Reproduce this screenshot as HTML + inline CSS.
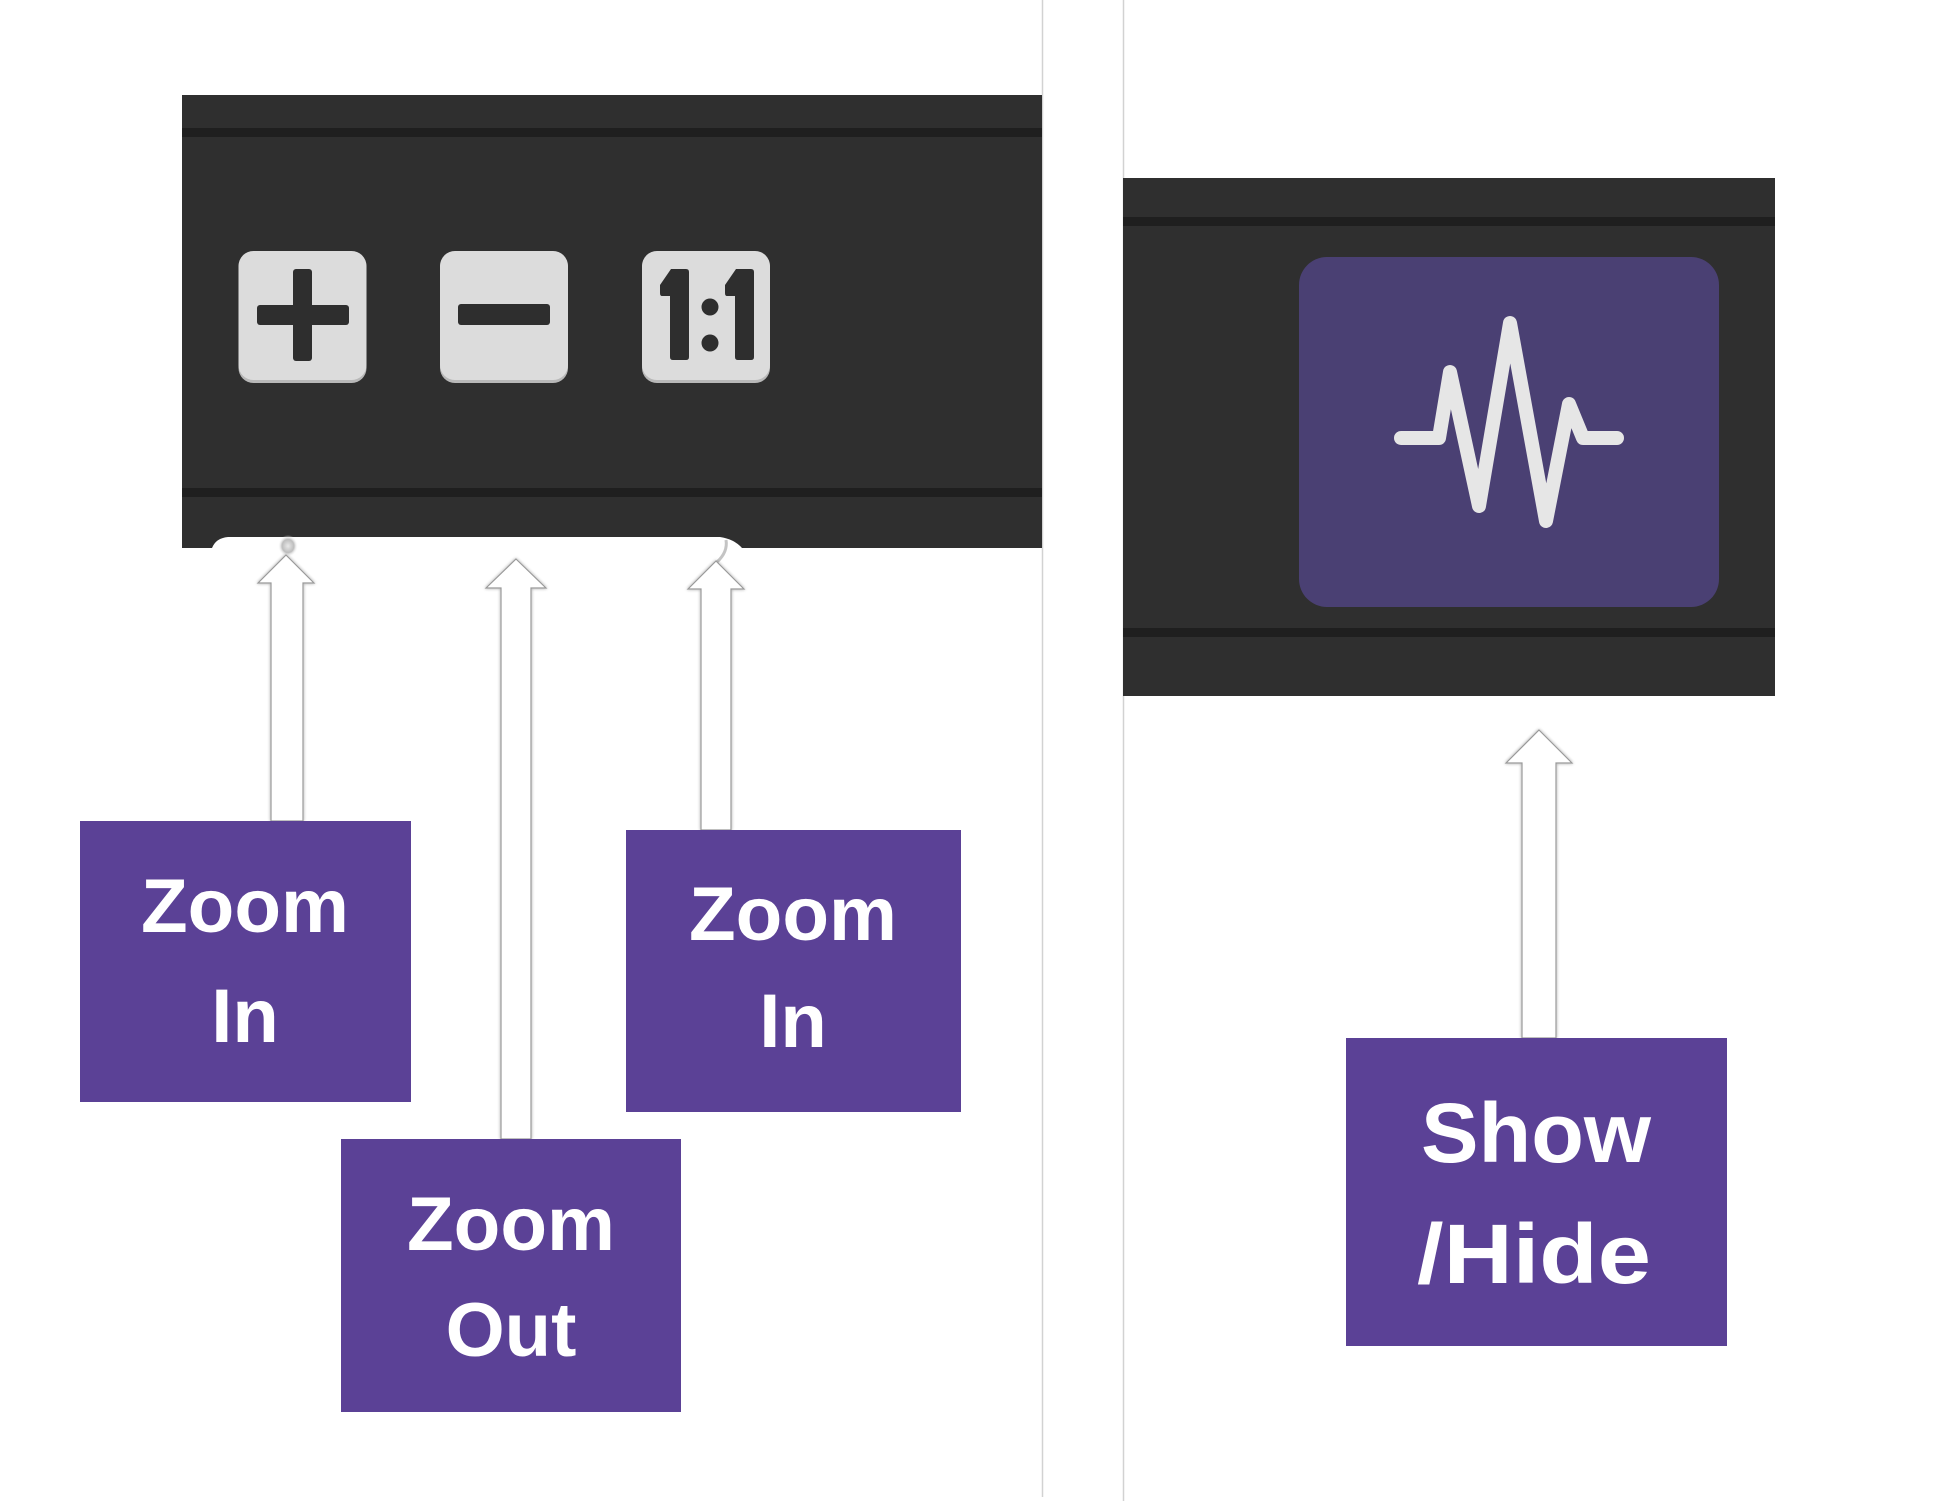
<!DOCTYPE html>
<html>
<head>
<meta charset="utf-8">
<style>
  html,body{margin:0;padding:0;background:#ffffff;}
  body{width:1958px;height:1501px;overflow:hidden;position:relative;}
  svg{position:absolute;left:0;top:0;}
  .lbl{font-family:"Liberation Sans","DejaVu Sans",sans-serif;font-weight:bold;fill:#ffffff;}
</style>
</head>
<body>
<svg width="1958" height="1501" viewBox="0 0 1958 1501" xmlns="http://www.w3.org/2000/svg">
  <defs>
    <filter id="sh" x="-30%" y="-10%" width="160%" height="120%">
      <feGaussianBlur in="SourceAlpha" stdDeviation="1.5"/>
      <feOffset dx="0" dy="0" result="b"/>
      <feComponentTransfer><feFuncA type="linear" slope="0.35"/></feComponentTransfer>
      <feMerge><feMergeNode/><feMergeNode in="SourceGraphic"/></feMerge>
    </filter>
    <radialGradient id="blob" cx="50%" cy="50%" r="50%">
      <stop offset="0%" stop-color="#e8e8e8"/>
      <stop offset="60%" stop-color="#bdbdbd"/>
      <stop offset="100%" stop-color="#ffffff" stop-opacity="0"/>
    </radialGradient>
  </defs>

  <!-- panel divider lines -->
  <line x1="1042.5" y1="0" x2="1042.5" y2="1497" stroke="#d2d2d2" stroke-width="1.5"/>
  <line x1="1123.5" y1="0" x2="1123.5" y2="1501" stroke="#d2d2d2" stroke-width="1.5"/>

  <!-- LEFT TOOLBAR -->
  <path d="M182,95 H1042 V548 H742 Q734,539 720,537 H228 Q216,538 212,548 H182 Z" fill="#2f2f2f"/>
  <rect x="182" y="128" width="860" height="9" fill="#1f1f1f"/>
  <rect x="182" y="488" width="860" height="9" fill="#1f1f1f"/>

  <!-- plus button -->
  <rect x="238.5" y="252" width="128" height="131" rx="15" fill="#b8b8b8"/>
  <rect x="238.5" y="251" width="128" height="129" rx="15" fill="#dcdcdc"/>
  <rect x="293" y="269" width="19" height="92" rx="3" fill="#2e2e2e"/>
  <rect x="257" y="305" width="92" height="20" rx="3" fill="#2e2e2e"/>

  <!-- minus button -->
  <rect x="440" y="252" width="128" height="131" rx="15" fill="#b8b8b8"/>
  <rect x="440" y="251" width="128" height="129" rx="15" fill="#dcdcdc"/>
  <rect x="458" y="304" width="92" height="21" rx="3" fill="#2e2e2e"/>

  <!-- 1:1 button -->
  <rect x="642" y="252" width="128" height="131" rx="15" fill="#b8b8b8"/>
  <rect x="642" y="251" width="128" height="129" rx="15" fill="#dcdcdc"/>
  <path d="M671,269 H686 Q689,269 689,272 V357 Q689,360 686,360 H673 Q670,360 670,357 V296 H662 Q660,296 660,293 V285 Z" fill="#2e2e2e"/>
  <path d="M736,269 H751 Q754,269 754,272 V357 Q754,360 751,360 H738 Q735,360 735,357 V296 H727 Q725,296 725,293 V285 Z" fill="#2e2e2e"/>
  <circle cx="710" cy="307" r="8.5" fill="#2e2e2e"/>
  <circle cx="710" cy="343" r="8.5" fill="#2e2e2e"/>

  <!-- RIGHT TOOLBAR -->
  <rect x="1123" y="178" width="652" height="518" fill="#2f2f2f"/>
  <rect x="1123" y="217" width="652" height="9" fill="#1f1f1f"/>
  <rect x="1123" y="628" width="652" height="9" fill="#1f1f1f"/>
  <rect x="1299" y="257" width="420" height="350" rx="28" fill="#4a4073"/>
  <polyline points="1401,438 1439,438 1450,372 1479,506 1510,323 1546,521 1569,404 1583,438 1617,438"
            fill="none" stroke="#e6e6e6" stroke-width="14" stroke-linecap="round" stroke-linejoin="round"/>

  <!-- connector blobs -->
  <ellipse cx="288" cy="546" rx="10" ry="11" fill="url(#blob)"/>
  <path d="M717,562 Q728,552 726,540" fill="none" stroke="#c4c4c4" stroke-width="3"/>

  <!-- ARROWS -->
  <g fill="#ffffff" stroke="#999999" stroke-width="1.2" filter="url(#sh)">
    <polygon points="286,555 314,583 303,583 303,821 271,821 271,583 258,583"/>
    <polygon points="516,559 546,588 531,588 531,1139 501,1139 501,588 486,588"/>
    <polygon points="716,561 744,589 731,589 731,830 701,830 701,589 688,589"/>
    <polygon points="1539,730 1572,763 1556,763 1556,1038 1522,1038 1522,763 1506,763"/>
  </g>

  <!-- LABEL BOXES -->
  <rect x="80" y="821" width="331" height="281" fill="#5b4196"/>
  <rect x="341" y="1139" width="340" height="273" fill="#5b4196"/>
  <rect x="626" y="830" width="335" height="282" fill="#5b4196"/>
  <rect x="1346" y="1038" width="381" height="308" fill="#5b4196"/>

  <text class="lbl" x="245" y="932" font-size="76" text-anchor="middle" textLength="208" lengthAdjust="spacingAndGlyphs">Zoom</text>
  <text class="lbl" x="245" y="1042" font-size="76" text-anchor="middle">In</text>

  <text class="lbl" x="511" y="1250" font-size="76" text-anchor="middle" textLength="208" lengthAdjust="spacingAndGlyphs">Zoom</text>
  <text class="lbl" x="511" y="1356" font-size="76" text-anchor="middle">Out</text>

  <text class="lbl" x="793" y="940" font-size="76" text-anchor="middle" textLength="208" lengthAdjust="spacingAndGlyphs">Zoom</text>
  <text class="lbl" x="793" y="1047" font-size="76" text-anchor="middle">In</text>

  <text class="lbl" x="1536" y="1162" font-size="84" text-anchor="middle" textLength="230" lengthAdjust="spacingAndGlyphs">Show</text>
  <text class="lbl" x="1534" y="1283" font-size="84" text-anchor="middle" textLength="234" lengthAdjust="spacingAndGlyphs">/Hide</text>
</svg>
</body>
</html>
